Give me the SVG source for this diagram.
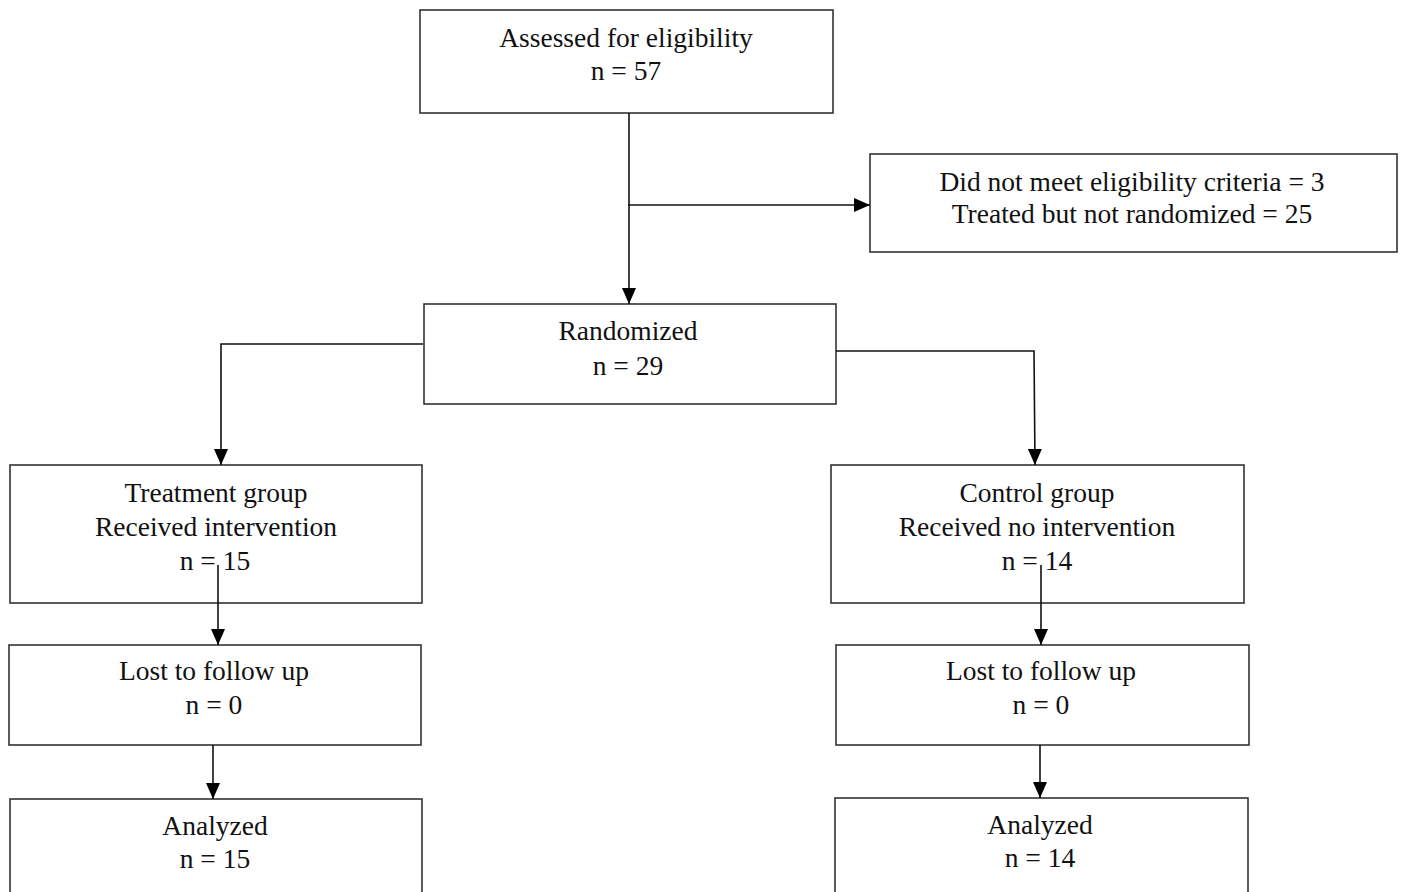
<svg xmlns="http://www.w3.org/2000/svg" width="1403" height="892" viewBox="0 0 1403 892">
<defs>
<marker id="ah" markerWidth="16" markerHeight="14" refX="16" refY="7" orient="auto" markerUnits="userSpaceOnUse">
<path d="M0,0 L16,7 L0,14 Z" fill="#000"/>
</marker>
<style>
.box{fill:#fff;stroke:#333;stroke-width:1.6}
.lbl{font-family:"Liberation Serif","Times New Roman",serif;font-size:27.5px;fill:#111;text-anchor:middle}
.con{fill:none;stroke:#111;stroke-width:1.6}
</style>
</defs>
<rect width="1403" height="892" fill="#fff"/>
<g id="n-assessed"><rect class="box" x="420" y="10" width="413" height="103"/>
<text class="lbl" x="626" y="47">Assessed for eligibility</text><text class="lbl" x="626" y="80">n = 57</text></g>
<g id="n-excluded"><rect class="box" x="870" y="154" width="527" height="98"/>
<text class="lbl" x="1132" y="191">Did not meet eligibility criteria = 3</text><text class="lbl" x="1132" y="223">Treated but not randomized = 25</text></g>
<g id="n-randomized"><rect class="box" x="424" y="304" width="412" height="100"/>
<text class="lbl" x="628" y="340">Randomized</text><text class="lbl" x="628" y="375">n = 29</text></g>
<g id="n-treatment"><rect class="box" x="10" y="465" width="412" height="138"/>
<text class="lbl" x="216" y="502">Treatment group</text><text class="lbl" x="216" y="536">Received intervention</text><text class="lbl" x="215" y="570">n = 15</text></g>
<g id="n-control"><rect class="box" x="831" y="465" width="413" height="138"/>
<text class="lbl" x="1037" y="502">Control group</text><text class="lbl" x="1037" y="536">Received no intervention</text><text class="lbl" x="1037" y="570">n = 14</text></g>
<g id="n-lost-t"><rect class="box" x="9" y="645" width="412" height="100"/>
<text class="lbl" x="214" y="680">Lost to follow up</text><text class="lbl" x="214" y="714">n = 0</text></g>
<g id="n-lost-c"><rect class="box" x="836" y="645" width="413" height="100"/>
<text class="lbl" x="1041" y="680">Lost to follow up</text><text class="lbl" x="1041" y="714">n = 0</text></g>
<g id="n-analyzed-t"><rect class="box" x="10" y="799" width="412" height="110"/>
<text class="lbl" x="215" y="835">Analyzed</text><text class="lbl" x="215" y="868">n = 15</text></g>
<g id="n-analyzed-c"><rect class="box" x="835" y="798" width="413" height="110"/>
<text class="lbl" x="1040" y="834">Analyzed</text><text class="lbl" x="1040" y="867">n = 14</text></g>
<g id="connectors">
<path class="con" d="M629,113 L629,304" marker-end="url(#ah)"/>
<path class="con" d="M628,205 L870,205" marker-end="url(#ah)"/>
<path class="con" d="M423,344 L221,344 L221,465" marker-end="url(#ah)"/>
<path class="con" d="M836,351 L1034,351 L1035,465" marker-end="url(#ah)"/>
<path class="con" d="M218,565 L218,645" marker-end="url(#ah)"/>
<path class="con" d="M1041,565 L1041,645" marker-end="url(#ah)"/>
<path class="con" d="M213,745 L213,799" marker-end="url(#ah)"/>
<path class="con" d="M1040,745 L1040,798" marker-end="url(#ah)"/>
</g>
</svg>
